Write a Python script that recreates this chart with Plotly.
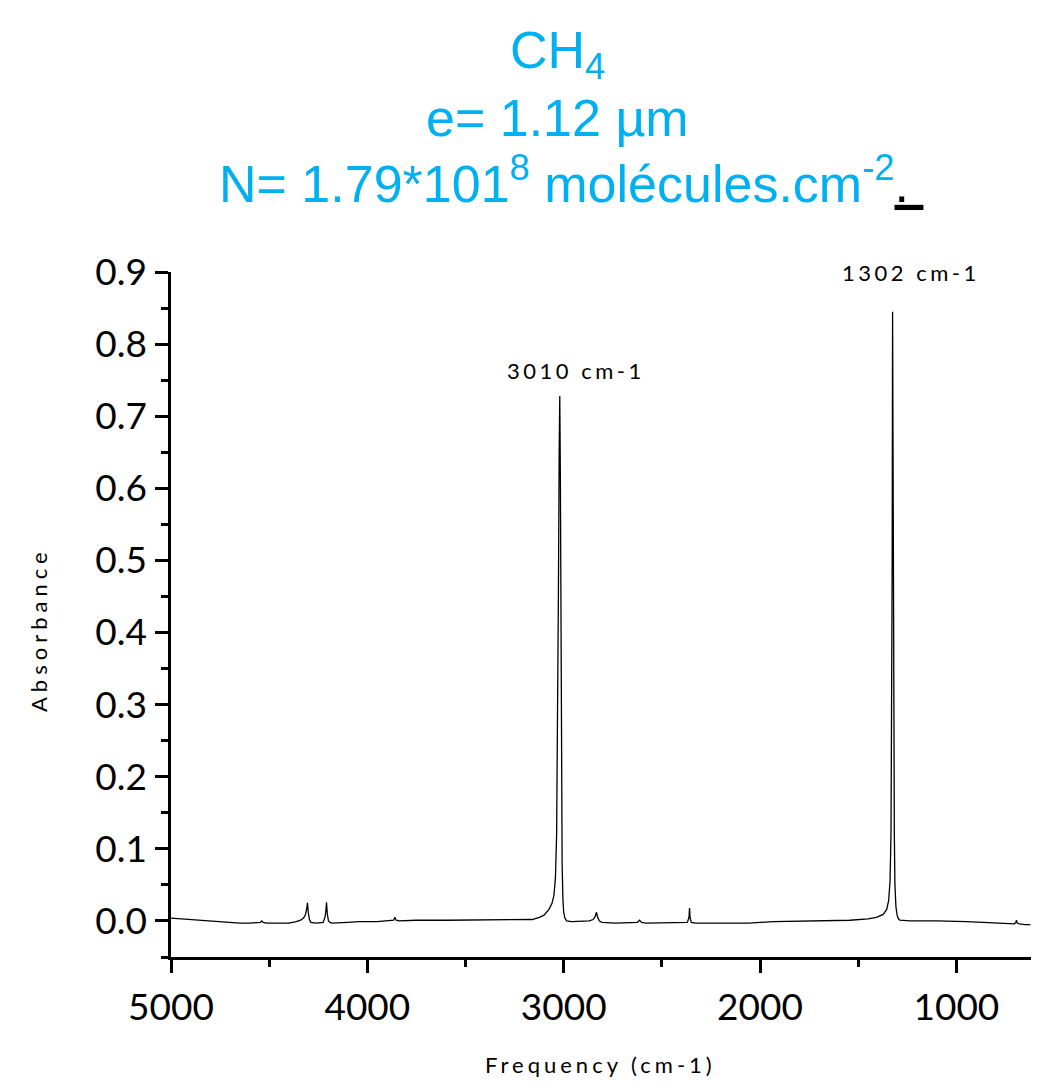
import plotly.graph_objects as go

# Spectrum (wavenumber in cm-1, absorbance)
frequency = [5000, 4950, 4900, 4850, 4800, 4750, 4700, 4650, 4600, 4560, 4545, 4538, 4530, 4515,
             4450, 4400, 4362, 4340, 4325, 4315, 4308, 4305, 4301, 4295, 4288, 4260, 4225, 4215,
             4211, 4208, 4204, 4198, 4190, 4180, 4100, 4040, 3950, 3880, 3866, 3860, 3853, 3840,
             3750, 3600, 3400, 3211, 3160, 3124, 3100, 3075, 3060, 3050, 3042, 3036, 3031, 3027,
             3023, 3020, 3017, 3014, 3011, 3008, 3004, 3000, 2994, 2985, 2960, 2900, 2870, 2850,
             2840, 2833, 2827, 2818, 2805, 2737, 2650, 2625, 2614, 2603, 2580, 2400, 2370, 2362,
             2359, 2356, 2350, 2328, 2200, 2056, 1933, 1750, 1543, 1450, 1407, 1373, 1355, 1345,
             1338, 1333, 1330, 1327, 1325, 1322, 1319, 1316, 1313, 1308, 1302, 1295, 1288, 1237,
             1100, 1034, 950, 864, 800, 728, 705, 697, 694, 690, 680, 650, 623]
absorbance = [0.004, 0.003, 0.002, 0.001, -0.001, -0.002, -0.002, -0.003, -0.003, -0.003, -0.002, 0.000, -0.002, -0.003,
              -0.003, -0.003, -0.001, 0.001, 0.004, 0.009, 0.018, 0.025, 0.012, 0.002, -0.002, -0.003, -0.002, 0.006,
              0.015, 0.026, 0.010, 0.000, -0.002, -0.003, -0.002, -0.001, -0.001, 0.000, 0.001, 0.005, 0.001, 0.000,
              0.001, 0.001, 0.001, 0.001, 0.002, 0.005, 0.008, 0.016, 0.024, 0.035, 0.060, 0.120, 0.250, 0.450,
              0.650, 0.728, 0.620, 0.400, 0.200, 0.080, 0.030, 0.012, 0.004, 0.000, -0.001, -0.001, 0.000, 0.002,
              0.006, 0.012, 0.005, 0.000, -0.002, -0.003, -0.003, -0.002, 0.001, -0.002, -0.003, -0.003, -0.002, 0.005,
              0.018, 0.004, -0.002, -0.003, -0.003, -0.003, -0.001, 0.000, 0.001, 0.003, 0.005, 0.009, 0.016, 0.028,
              0.055, 0.120, 0.260, 0.500, 0.845, 0.550, 0.280, 0.120, 0.050, 0.020, 0.008, 0.003, 0.001, 0.000,
              0.000, 0.000, -0.001, -0.002, -0.003, -0.004, -0.004, -0.002, 0.001, -0.003, -0.004, -0.005, -0.005]

peak_positions = [3020, 1325]
peak_heights = [0.728, 0.845]
peak_labels = ["3010 cm-1", "1302 cm-1"]

title_lines = ["CH<sub>4</sub>", "e= 1.12 µm",
               'N= 1.79*101<sup>8</sup> molécules.cm<sup>-2</sup><span style="color:black"><u>. </u></span>']

x_title = "Frequency (cm-1)"
y_title = "Absorbance"

fig = go.Figure()
fig.add_trace(go.Scatter(x=frequency, y=absorbance, mode="lines",
                         line=dict(color="black", width=1.3), showlegend=False,
                         hoverinfo="skip"))

tick_font = dict(family="Lato, Open Sans, sans-serif", size=37, color="black")
small_font = dict(family="Lato, Open Sans, sans-serif", size=22, color="black")

fig.update_layout(
    width=1039, height=1088,
    margin=dict(l=171, r=8, t=272, b=131),
    paper_bgcolor="white", plot_bgcolor="white",
    xaxis=dict(range=[5000, 620], autorange=False, dtick=1000, tick0=0, showgrid=False, zeroline=False,
               showline=True, linecolor="black", linewidth=2.5, mirror=False,
               ticks="outside", ticklen=13, tickwidth=2.5, tickcolor="black",
               tickfont=tick_font, ticklabelstandoff=3,
               minor=dict(dtick=500, tick0=0, ticks="outside", ticklen=7, tickwidth=2.5, tickcolor="black")),
    yaxis=dict(range=[-0.05, 0.9], autorange=False, dtick=0.1, tick0=0, tickformat=".1f",
               showgrid=False, zeroline=False,
               showline=True, linecolor="black", linewidth=2.5,
               ticks="outside", ticklen=13, tickwidth=2.5, tickcolor="black",
               tickfont=tick_font, ticklabelstandoff=1,
               minor=dict(dtick=0.05, tick0=0, ticks="outside", ticklen=7, tickwidth=2.5, tickcolor="black")),
)

# Title lines, centred on their visual position in the reference
title_y_px = [54, 118, 180]
title_x_px = [557, 557, 571]
for txt, ypx, xpx in zip(title_lines, title_y_px, title_x_px):
    fig.add_annotation(text=txt, xref="paper", yref="paper",
                       x=(xpx - 171) / 860, y=(957 - ypx) / 685,
                       xanchor="center", yanchor="middle", showarrow=False,
                       font=dict(family="Liberation Sans, Arial, sans-serif", size=52, color="#00B0F0"))

# Axis titles
fig.add_annotation(text='<span style="letter-spacing:4px">' + x_title + '</span>',
                   xref="paper", yref="paper", x=(600 - 171) / 860, y=(957 - 1064) / 685,
                   xanchor="center", yanchor="middle", showarrow=False, font=small_font)
fig.add_annotation(text='<span style="letter-spacing:5px">' + y_title + '</span>',
                   xref="paper", yref="paper", x=(38 - 171) / 860, y=(957 - 630) / 685,
                   xanchor="center", yanchor="middle", showarrow=False, textangle=-90,
                   font=small_font)

label_yshift = [10, 24]
label_xshift = [16, 18]
for xp, yp, lab, ys, xs in zip(peak_positions, peak_heights, peak_labels, label_yshift, label_xshift):
    fig.add_annotation(x=xp, y=yp, xref="x", yref="y",
                       text='<span style="letter-spacing:3.5px">' + lab + '</span>',
                       showarrow=False, yanchor="bottom", yshift=ys, xshift=xs,
                       font=small_font)

fig.write_html("out.html")
